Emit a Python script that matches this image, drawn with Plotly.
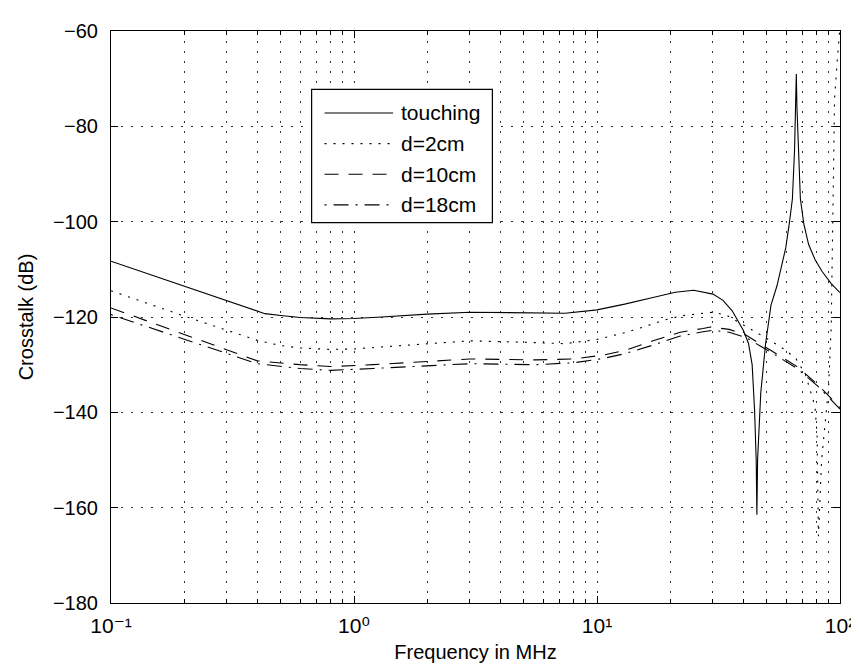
import plotly.graph_objects as go

# ---------------- data ----------------
f_touch = [0.1, 0.2, 0.3, 0.43, 0.5, 0.6, 0.8, 1.0, 1.3, 2.0, 3.0, 5.0, 7.4, 10.0, 13.0, 17.0,
           21.0, 25.0, 30.0, 33.0, 36.0, 40.0, 42.0, 43.5, 44.5, 45.2, 45.5, 45.8, 46.5, 47.2,
           49.4, 50.4, 52.0, 55.0, 59.8, 62.0, 63.7, 65.0, 65.7, 66.1, 66.5, 67.3, 68.7, 71.0,
           74.3, 79.0, 84.3, 92.0, 100.0]
db_touch = [-108.3, -113.5, -116.6, -119.3, -119.7, -120.1, -120.4, -120.3, -120.0, -119.4,
            -119.0, -119.1, -119.2, -118.5, -117.3, -115.9, -114.8, -114.4, -115.2, -116.5,
            -118.7, -122.8, -125.5, -130.0, -139.4, -150.0, -161.5, -150.0, -141.0, -135.9,
            -125.6, -122.5, -117.5, -113.5, -105.5, -100.0, -95.2, -85.0, -76.0, -69.0, -76.0,
            -85.0, -95.2, -100.5, -104.8, -108.0, -110.4, -113.0, -114.9]

f_d2 = [0.1, 0.2, 0.4, 0.5, 0.6, 0.8, 1.0, 1.3, 2.0, 3.0, 5.0, 7.4, 10.0, 13.0, 15.5, 19.0,
        22.6, 27.0, 30.0, 34.0, 38.0, 43.6, 50.0, 59.6, 66.0, 72.0, 78.9, 80.5, 81.5, 84.0,
        89.7, 92.0, 95.0, 97.5, 100.0]
db_d2 = [-114.5, -119.8, -124.9, -126.0, -126.5, -126.8, -126.7, -126.3, -125.6, -125.0,
         -125.3, -125.6, -124.7, -123.3, -122.1, -120.6, -119.7, -119.2, -119.0, -119.6,
         -121.0, -122.8, -124.5, -126.9, -128.8, -132.0, -138.7, -145.0, -166.0, -150.0,
         -135.0, -122.0, -74.0, -66.0, -59.0]

f_d10 = [0.1, 0.2, 0.4, 0.6, 0.8, 1.2, 2.0, 3.0, 5.6, 8.0, 10.6, 13.0, 17.0, 22.0, 27.3,
         29.3, 35.0, 41.0, 54.3, 66.6, 81.0, 100.0]
db_d10 = [-118.1, -123.6, -129.2, -130.0, -130.4, -130.0, -129.3, -128.8, -129.0, -128.8,
          -128.0, -127.0, -125.0, -123.2, -122.4, -122.1, -122.6, -123.8, -127.6, -130.4,
          -134.2, -139.0]

f_d18 = [0.1, 0.2, 0.4, 0.6, 0.8, 1.2, 2.0, 3.0, 5.6, 8.0, 10.6, 13.0, 17.0, 22.0, 27.3,
         30.0, 35.0, 41.0, 54.3, 66.6, 81.0, 100.0]
db_d18 = [-119.5, -124.6, -129.8, -130.8, -131.2, -130.8, -130.2, -129.8, -130.0, -129.6,
          -128.7, -127.7, -125.9, -124.0, -123.1, -122.8, -123.2, -124.3, -128.0, -130.8,
          -134.5, -139.3]

series_names = ["touching", "d=2cm", "d=10cm", "d=18cm"]

x_tickvals = [0.1, 1, 10, 100]
x_ticktext = ["10\u207b\u00b9", "10\u2070", "10\u00b9", "10\u00b2"]
y_tickvals = [-180, -160, -140, -120, -100, -80, -60]
y_ticktext = ["\u2212180", "\u2212160", "\u2212140", "\u2212120", "\u2212100", "\u221280", "\u221260"]

# ---------------- figure ----------------
W, H = 859, 668
L, R, T, B = 103, 837, 16, 595   # plot-area pixel box
FONT = "Liberation Sans, Arial, Helvetica, DejaVu Sans, sans-serif"
FS = 20

dashes = ["solid", "2px,7px", "14px,10px", "2px,7px,15px,7px"]
xs = [f_touch, f_d2, f_d10, f_d18]
ys = [db_touch, db_d2, db_d10, db_d18]

fig = go.Figure()
for name, x, y, d in zip(series_names, xs, ys, dashes):
    fig.add_trace(go.Scatter(x=x, y=y, mode="lines", name=name, showlegend=False,
                             line=dict(color="black", width=1.1, dash=d), cliponaxis=True))

grid_dash = "2px,8px"
fig.update_layout(
    width=W, height=H,
    margin=dict(l=L, r=W - R, t=T, b=H - B, pad=0),
    paper_bgcolor="white", plot_bgcolor="white",
    font=dict(family=FONT, size=FS, color="black"),
    showlegend=False,
    xaxis=dict(type="log", range=[-1, 2], tickvals=x_tickvals, ticktext=x_ticktext,
               ticks="inside", ticklen=7, tickcolor="black", tickwidth=1,
               showline=True, linecolor="black", linewidth=1, mirror="allticks",
               showgrid=True, gridcolor="#333", gridwidth=1, griddash=grid_dash,
               minor=dict(dtick="D1", ticks="inside", ticklen=4, tickcolor="black",
                          showgrid=True, gridcolor="#333", gridwidth=1, griddash=grid_dash),
               zeroline=False, ticklabelstandoff=4, tickfont=dict(size=FS + 1),
               title=dict(text="Frequency in MHz", standoff=8, font=dict(size=FS))),
    yaxis=dict(range=[-180, -60], tickvals=y_tickvals, ticktext=y_ticktext,
               ticks="inside", ticklen=7, tickcolor="black", tickwidth=1,
               showline=True, linecolor="black", linewidth=1, mirror="allticks",
               showgrid=True, gridcolor="#333", gridwidth=1, griddash=grid_dash,
               zeroline=False, ticklabelstandoff=8,
               title=dict(text="Crosstalk (dB)", standoff=13, font=dict(size=FS))),
)

# ---------------- legend box (MATLAB style) ----------------
def px2x(px):
    return (px - L) / (R - L)

def py2y(py):
    return (B - py) / (B - T)

box_l, box_r, box_t, box_b = 305, 487, 75, 210
line_l, line_r, text_l = 318, 387, 393
row_y = [99, 130, 161, 192]

shapes = [dict(type="rect", xref="paper", yref="paper", layer="above",
               x0=px2x(box_l), x1=px2x(box_r), y0=py2y(box_b), y1=py2y(box_t),
               line=dict(color="black", width=1.2), fillcolor="white")]
annotations = []
for name, d, ry in zip(series_names, dashes, row_y):
    shapes.append(dict(type="line", xref="paper", yref="paper", layer="above",
                       x0=px2x(line_l), x1=px2x(line_r), y0=py2y(ry), y1=py2y(ry),
                       line=dict(color="black", width=1.1, dash=d)))
    annotations.append(dict(text=name, xref="paper", yref="paper", x=px2x(text_l), y=py2y(ry),
                            xanchor="left", yanchor="middle", showarrow=False,
                            font=dict(family=FONT, size=FS + 1, color="black")))
fig.update_layout(shapes=shapes, annotations=annotations)

fig.write_html("out.html")
